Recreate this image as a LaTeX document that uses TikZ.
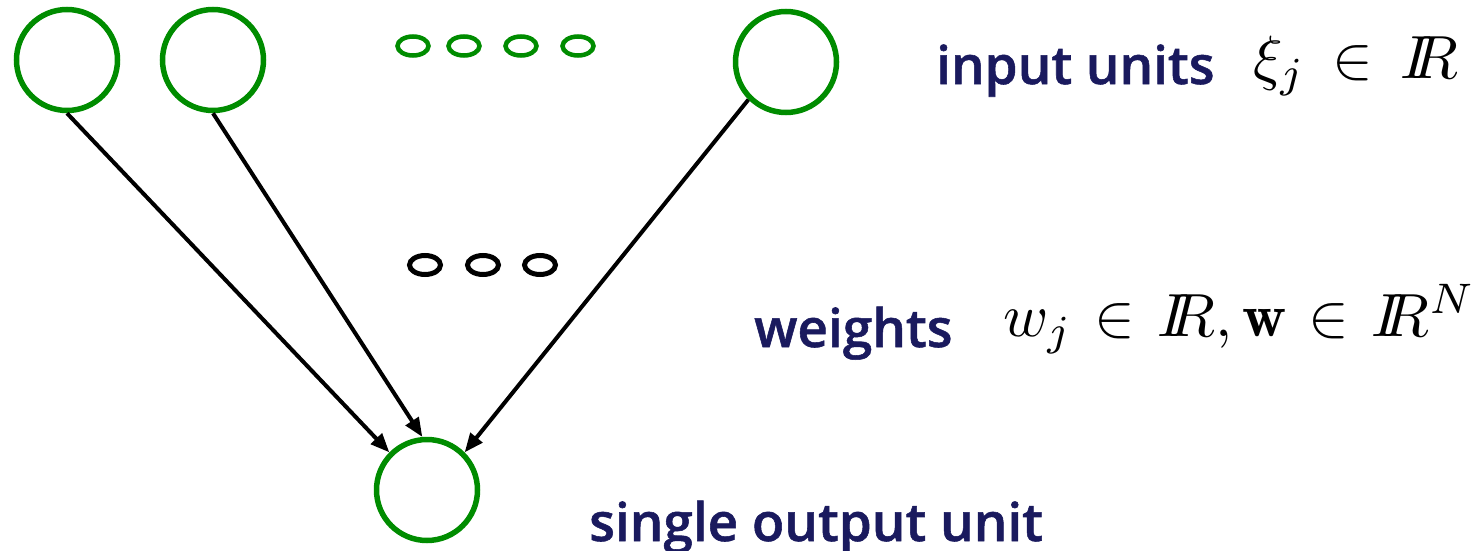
\documentclass[tikz,border=0pt]{standalone}
\usepackage{graphicx}
\usepackage{fontspec}
\usetikzlibrary{arrows.meta, shapes.geometric}
\newfontfamily\labelfont{Open Sans Semibold}[FakeBold=1]
\definecolor{unitgreen}{RGB}{0,140,0}
\definecolor{labelnavy}{RGB}{26,26,94}
\newcommand\IR{I\!\!R}
% large formula: scaled-up math with adjustable relation spacing
\newcommand\bigmath[2]{\scalebox{6.1}{\thickmuskip=#1 $#2$}}
\tikzset{
  unit/.style={circle, draw=unitgreen, line width=5.5pt, minimum size=101pt, inner sep=0pt},
  gdot/.style={ellipse, draw=unitgreen, line width=4.5pt, minimum width=31pt, minimum height=19pt, inner sep=0pt},
  kdot/.style={ellipse, draw=black, line width=5pt, minimum width=31pt, minimum height=19pt, inner sep=0pt},
  link/.style={draw=black, line width=4pt, -{Triangle[length=19pt, width=15pt]}},
  caption/.style={anchor=base west, inner sep=0pt, text=labelnavy, font=\labelfont\fontsize{53}{60}\selectfont},
  formula/.style={anchor=base west, inner sep=0pt},
}
\begin{document}
\begin{tikzpicture}[x=1pt, y=-1pt]
  \useasboundingbox (0,0) rectangle (1482,551);
  % input layer
  \node[unit] (in1) at (67,60) {};
  \node[unit] (in2) at (213,60) {};
  \node[unit] (in3) at (786,62) {};
  \node[gdot] (g1) at (413,46) {};
  \node[gdot] (g2) at (464,46) {};
  \node[gdot] (g3) at (521,46) {};
  \node[gdot] (g4) at (578,46) {};
  % output unit
  \node[unit] (out) at (427,490) {};
  % weights ellipsis
  \node[kdot] (k1) at (425,265) {};
  \node[kdot] (k2) at (483,265) {};
  \node[kdot] (k3) at (540,265) {};
  % connections
  \draw[link] (in1.south) -- (out.135);
  \draw[link] (in2.south) -- (out.95);
  \draw[link] (in3.225) -- (out.45);
  % labels
  \node[caption] (cin) at (936,84) {input units};
  \node[formula] (fin) at (1253,78) {\bigmath{8mu}{\xi_j \in \IR}};
  \node[caption] (cw) at (754,347) {weights};
  \node[formula] (fw) at (1003,336) {\bigmath{6.5mu}{w_j \in \IR, \mathbf{w} \in \IR^N}};
  \node[caption] (cout) at (589,541) {single output unit};
\end{tikzpicture}
\end{document}
